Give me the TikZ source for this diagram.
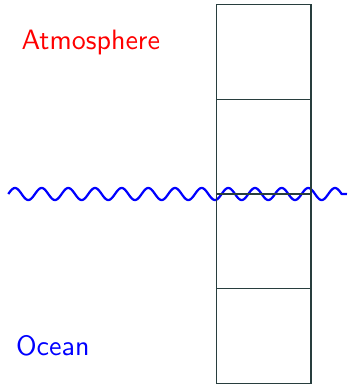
\documentclass[tikz,border=0pt]{standalone}
\usepackage{fontspec}
\begin{document}
\begin{tikzpicture}[x=0.357pt,y=-0.357pt,
  cell/.style={draw={rgb,255:red,40;green,62;blue,62},line width=0.45pt},
  wave/.style={draw=blue,line width=0.8pt},
  lbl/.style={font=\sffamily,anchor=base west,inner sep=0pt}]
\useasboundingbox (0,0) rectangle (352,386);
\draw[wave] plot[domain=8.3:341.6,samples=500,smooth] (\x,{194-6*sin(13.498*(\x-8.3))}) -- (347,194);
\foreach \i in {0,1,2,3}{
  \draw[cell] (216.3,{4.7+\i*94.65}) rectangle (310.9,{4.7+(\i+1)*94.65});
}
\node[lbl,text=red] (atm) at (21,49) {Atmosphere};
\node[lbl,text=blue] (ocean) at (15.5,355) {Ocean};
\end{tikzpicture}
\end{document}
